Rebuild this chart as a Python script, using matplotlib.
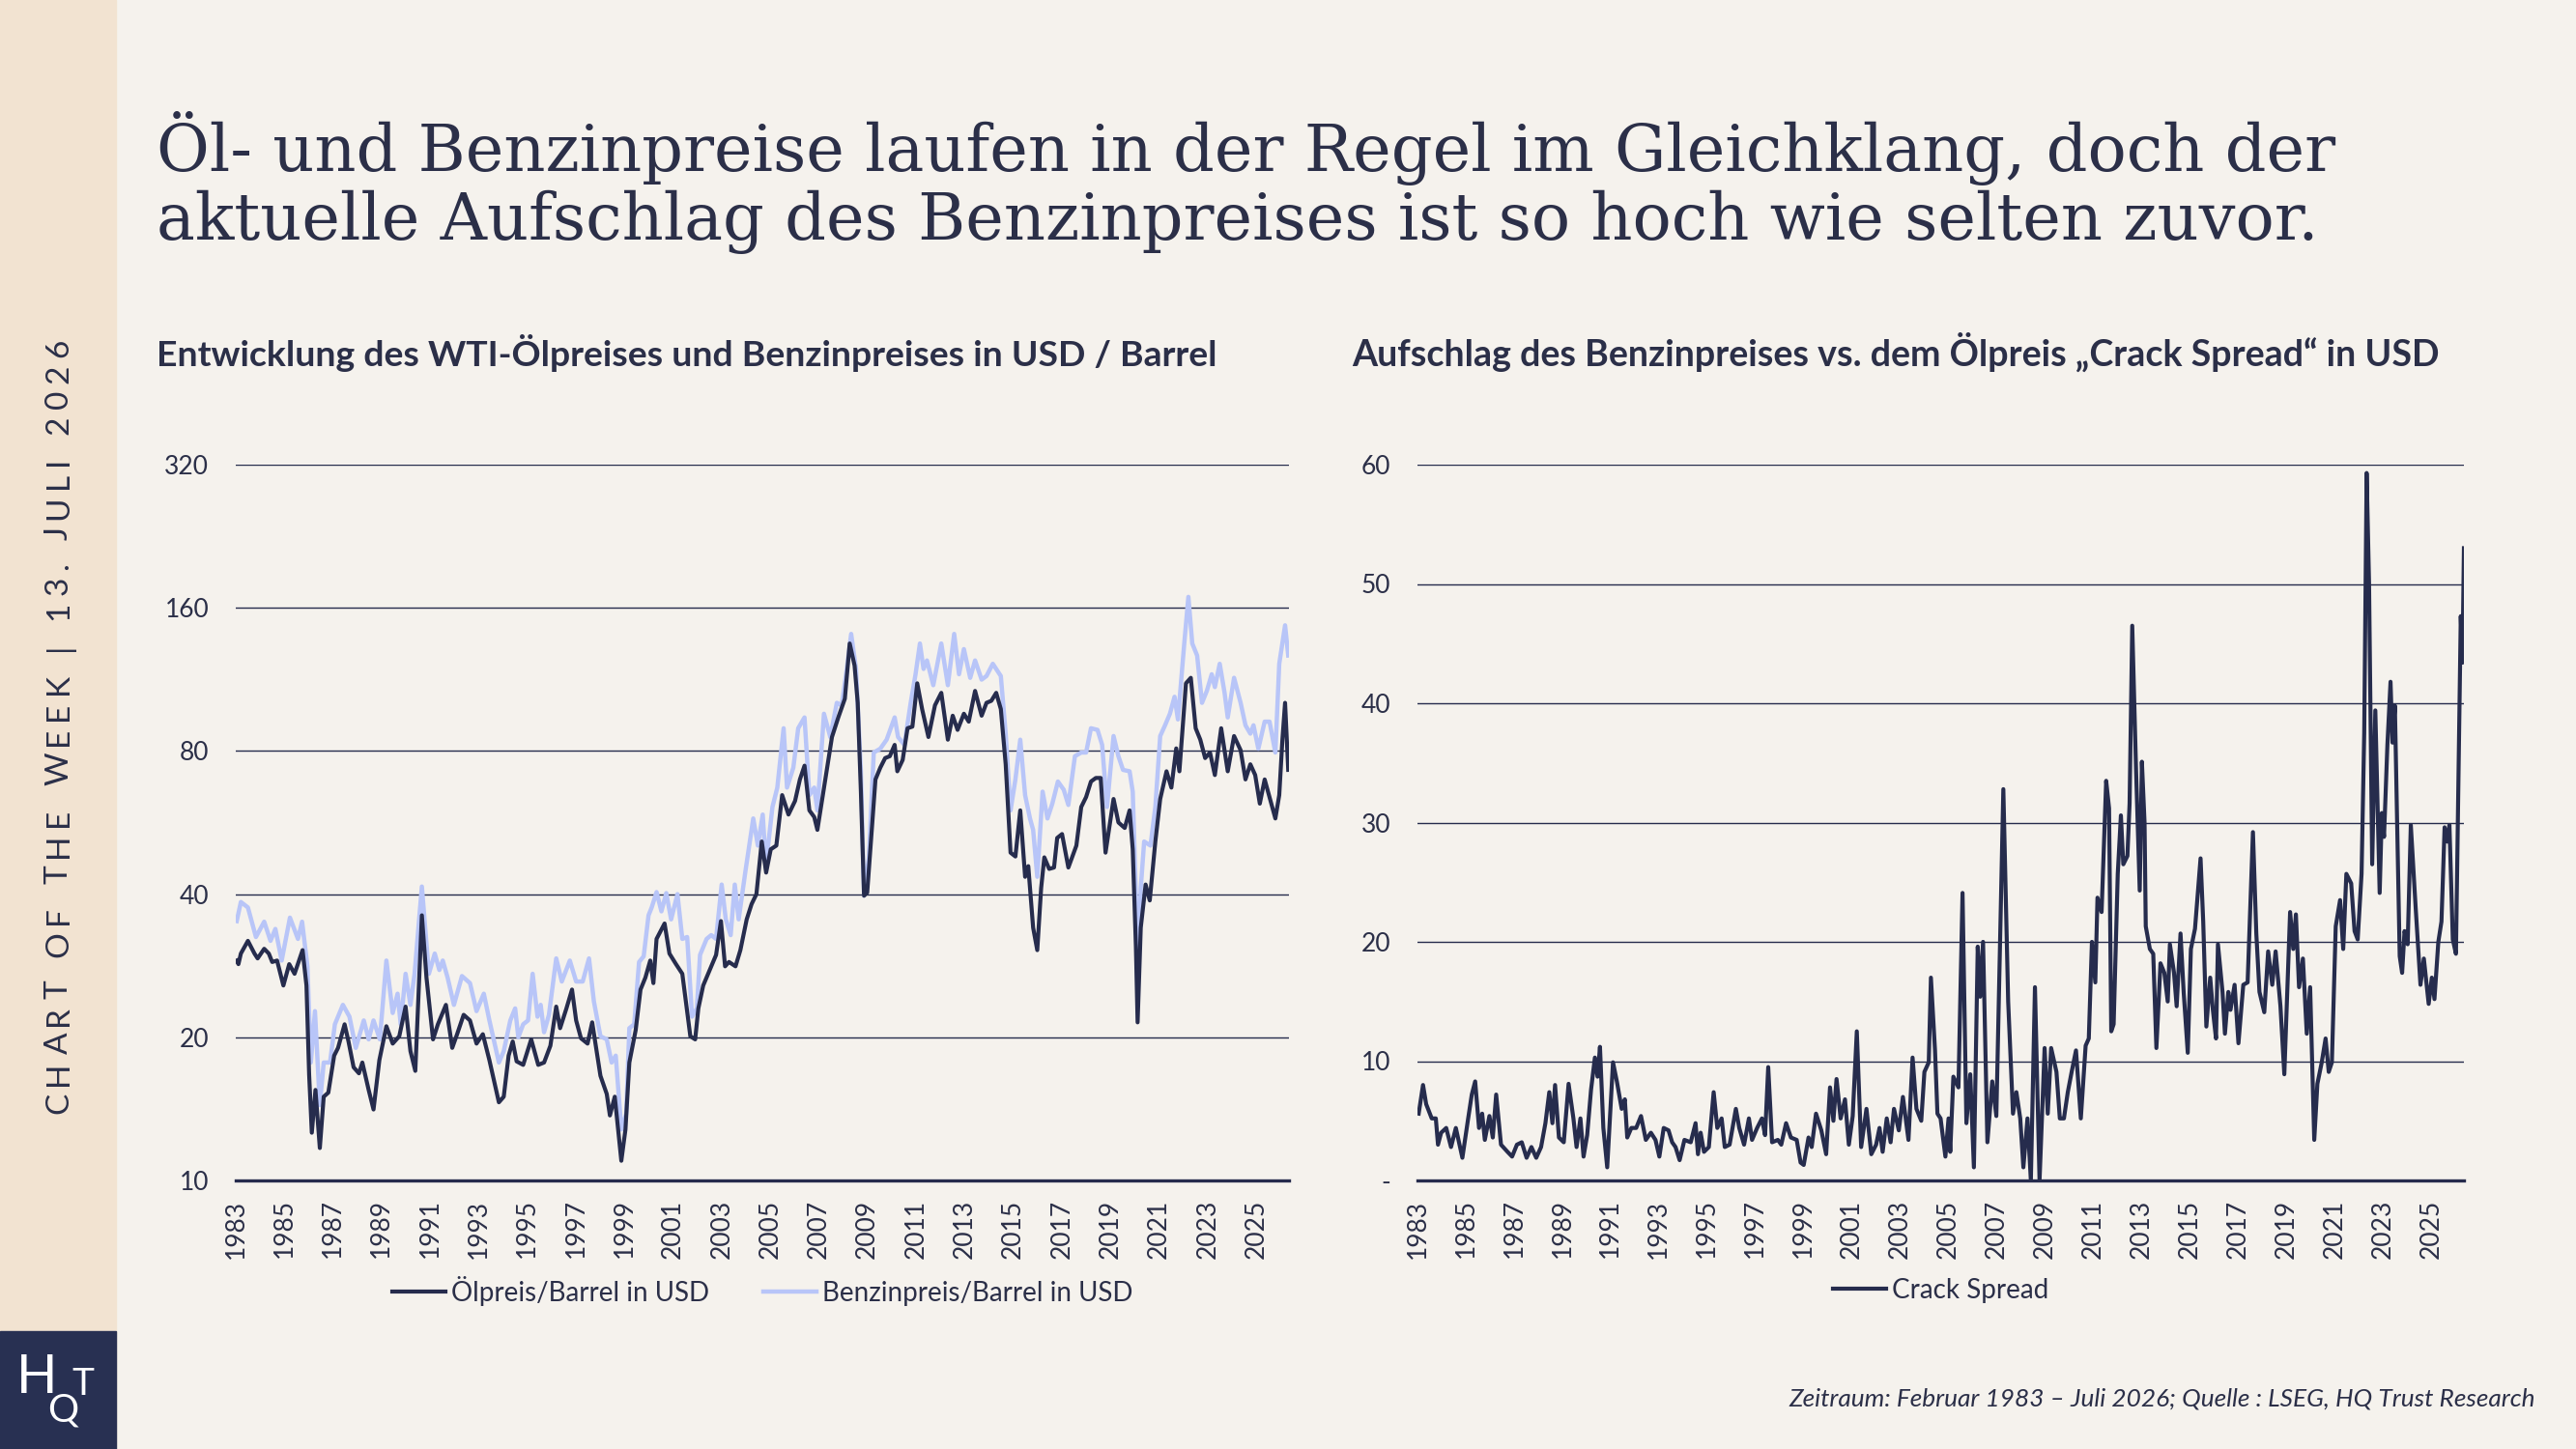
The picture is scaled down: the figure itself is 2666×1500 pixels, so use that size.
import matplotlib
matplotlib.use("Agg")
import matplotlib.pyplot as plt
from matplotlib.patches import Rectangle
from matplotlib.ticker import FixedLocator, NullLocator

# ---- data (decimal years, USD) ----
oil_years = [1983.04, 1983.11, 1983.21, 1983.50, 1983.77, 1983.90, 1984.17, 1984.36, 1984.50, 1984.70,
             1984.96, 1985.20, 1985.42, 1985.75, 1985.91, 1986.02, 1986.13, 1986.28, 1986.46, 1986.62,
             1986.81, 1987.05, 1987.21, 1987.48, 1987.64, 1987.85, 1988.07, 1988.21, 1988.47, 1988.67,
             1988.91, 1989.20, 1989.46, 1989.73, 1989.99, 1990.19, 1990.39, 1990.66, 1990.85, 1991.12,
             1991.32, 1991.65, 1991.91, 1992.11, 1992.38, 1992.64, 1992.91, 1993.17, 1993.44, 1993.83,
             1994.03, 1994.23, 1994.40, 1994.56, 1994.83, 1995.16, 1995.45, 1995.69, 1995.95, 1996.19,
             1996.35, 1996.61, 1996.84, 1997.01, 1997.21, 1997.48, 1997.67, 1998.01, 1998.27, 1998.40,
             1998.60, 1998.87, 1999.04, 1999.20, 1999.46, 1999.66, 1999.86, 2000.06, 2000.19, 2000.32,
             2000.65, 2000.85, 2001.12, 2001.38, 2001.71, 2001.91, 2002.04, 2002.24, 2002.51, 2002.77,
             2002.97, 2003.14, 2003.30, 2003.57, 2003.77, 2004.03, 2004.23, 2004.43, 2004.65, 2004.83,
             2005.02, 2005.25, 2005.49, 2005.75, 2006.02, 2006.22, 2006.41, 2006.61, 2006.81, 2006.94,
             2007.14, 2007.34, 2007.54, 2007.80, 2008.07, 2008.27, 2008.47, 2008.60, 2008.73, 2008.86,
             2008.99, 2009.13, 2009.33, 2009.53, 2009.73, 2009.92, 2010.12, 2010.23, 2010.45, 2010.65,
             2010.85, 2011.05, 2011.25, 2011.51, 2011.78, 2012.04, 2012.31, 2012.51, 2012.71, 2012.97,
             2013.17, 2013.43, 2013.70, 2013.90, 2014.10, 2014.30, 2014.49, 2014.69, 2014.89, 2015.09,
             2015.29, 2015.49, 2015.62, 2015.82, 2015.99, 2016.15, 2016.28, 2016.48, 2016.68, 2016.81,
             2017.01, 2017.27, 2017.60, 2017.80, 2018.00, 2018.20, 2018.40, 2018.60, 2018.80, 2019.13,
             2019.33, 2019.59, 2019.79, 2019.92, 2020.05, 2020.12, 2020.25, 2020.45, 2020.62, 2020.85,
             2021.05, 2021.31, 2021.51, 2021.71, 2021.84, 2022.11, 2022.31, 2022.51, 2022.70, 2022.90,
             2023.10, 2023.30, 2023.56, 2023.83, 2024.09, 2024.36, 2024.56, 2024.76, 2024.96, 2025.15,
             2025.35, 2025.62, 2025.79, 2025.95, 2026.08, 2026.19, 2026.32]
oil_usd = [29.0, 28.5, 30.0, 31.9, 30.0, 29.3, 30.7, 30.0, 28.8, 29.0,
           25.7, 28.5, 27.2, 30.5, 25.7, 16.7, 12.6, 15.5, 11.7, 15.0,
           15.3, 18.3, 19.0, 21.3, 19.6, 17.3, 16.8, 17.7, 15.5, 14.1,
           17.9, 21.1, 19.4, 20.1, 23.2, 18.7, 17.0, 36.1, 26.7, 19.8,
           21.3, 23.4, 19.0, 20.3, 22.3, 21.7, 19.4, 20.3, 17.9, 14.6,
           15.0, 18.3, 19.6, 17.8, 17.5, 19.8, 17.5, 17.7, 19.2, 23.2,
           20.9, 23.0, 25.2, 21.7, 19.9, 19.4, 21.5, 16.6, 15.2, 13.7,
           15.0, 11.0, 12.8, 17.7, 20.7, 25.2, 26.7, 29.0, 26.0, 32.2,
           34.7, 30.0, 28.5, 27.2, 20.1, 19.8, 23.0, 25.7, 27.7, 29.8,
           35.1, 28.2, 28.8, 28.2, 30.5, 35.4, 38.1, 40.0, 51.6, 44.4,
           49.7, 50.6, 64.6, 58.8, 62.8, 69.7, 74.5, 60.0, 58.1, 54.6,
           63.4, 73.8, 85.6, 94.1, 103.0, 134.6, 121.0, 101.0, 65.7, 39.7,
           40.3, 50.6, 69.7, 73.8, 77.3, 78.0, 82.4, 72.5, 76.6, 89.3,
           90.0, 111.0, 98.0, 85.6, 99.8, 106.0, 84.5, 94.9, 88.6, 95.8,
           92.2, 107.0, 94.9, 101.0, 102.0, 106.0, 98.0, 75.0, 48.9, 48.0,
           60.0, 43.5, 45.8, 34.0, 30.5, 41.2, 47.8, 45.2, 45.5, 52.5,
           53.5, 45.5, 50.6, 61.0, 64.0, 69.0, 70.2, 70.2, 48.9, 63.4,
           56.6, 55.1, 60.0, 49.7, 31.0, 21.5, 34.0, 41.9, 38.8, 51.6,
           63.4, 72.5, 67.0, 81.0, 72.5, 111.0, 114.0, 89.3, 84.5, 77.3,
           79.4, 71.2, 89.3, 72.5, 86.0, 80.3, 69.7, 75.0, 71.2, 62.0,
           69.7, 62.0, 57.7, 64.6, 84.5, 101.0, 73.0]

gas_years = [1983.04, 1983.21, 1983.50, 1983.83, 1984.17, 1984.43, 1984.63, 1984.89, 1985.23, 1985.56,
             1985.73, 1985.95, 1986.09, 1986.26, 1986.46, 1986.62, 1986.88, 1987.08, 1987.41, 1987.68,
             1987.94, 1988.27, 1988.47, 1988.67, 1988.93, 1989.20, 1989.46, 1989.66, 1989.79, 1989.99,
             1990.19, 1990.36, 1990.66, 1990.95, 1991.19, 1991.38, 1991.52, 1991.72, 1991.98, 1992.31,
             1992.64, 1992.91, 1993.21, 1993.44, 1993.83, 1994.03, 1994.30, 1994.50, 1994.63, 1994.83,
             1995.03, 1995.22, 1995.42, 1995.55, 1995.69, 1995.89, 1996.19, 1996.42, 1996.75, 1997.01,
             1997.28, 1997.54, 1997.74, 1998.01, 1998.27, 1998.47, 1998.64, 1998.87, 1999.07, 1999.20,
             1999.40, 1999.60, 1999.79, 1999.99, 2000.12, 2000.32, 2000.52, 2000.72, 2000.92, 2001.18,
             2001.38, 2001.58, 2001.78, 2001.98, 2002.11, 2002.38, 2002.57, 2002.77, 2003.00, 2003.17,
             2003.37, 2003.54, 2003.70, 2003.97, 2004.30, 2004.49, 2004.69, 2004.82, 2005.09, 2005.29,
             2005.55, 2005.69, 2005.95, 2006.15, 2006.41, 2006.61, 2006.81, 2006.94, 2007.21, 2007.47,
             2007.74, 2007.94, 2008.14, 2008.33, 2008.53, 2008.73, 2008.86, 2009.06, 2009.26, 2009.53,
             2009.79, 2010.12, 2010.26, 2010.52, 2010.78, 2010.98, 2011.16, 2011.31, 2011.45, 2011.71,
             2012.04, 2012.31, 2012.57, 2012.77, 2012.97, 2013.23, 2013.43, 2013.70, 2013.90, 2014.16,
             2014.49, 2014.69, 2014.89, 2015.09, 2015.29, 2015.49, 2015.69, 2015.82, 2015.99, 2016.21,
             2016.41, 2016.61, 2016.84, 2017.08, 2017.27, 2017.54, 2017.80, 2018.00, 2018.20, 2018.47,
             2018.66, 2018.86, 2019.13, 2019.33, 2019.52, 2019.79, 2019.92, 2020.05, 2020.12, 2020.25,
             2020.39, 2020.65, 2020.85, 2021.05, 2021.25, 2021.45, 2021.64, 2021.78, 2022.04, 2022.21,
             2022.37, 2022.57, 2022.77, 2022.97, 2023.17, 2023.30, 2023.50, 2023.70, 2023.83, 2024.09,
             2024.36, 2024.56, 2024.76, 2024.89, 2025.09, 2025.35, 2025.55, 2025.79, 2025.95, 2026.19,
             2026.32]
gas_usd = [35.1, 38.5, 37.5, 32.5, 35.0, 31.9, 33.8, 29.0, 35.7, 32.2,
           35.0, 28.2, 17.7, 22.7, 14.4, 17.7, 17.7, 21.3, 23.4, 22.1,
           19.0, 21.7, 19.8, 21.7, 19.8, 29.0, 22.5, 24.7, 21.3, 27.2,
           23.4, 27.2, 41.5, 27.2, 30.0, 27.7, 29.0, 26.7, 23.4, 26.9,
           26.0, 22.7, 24.7, 21.7, 17.7, 18.7, 21.7, 23.0, 20.0, 21.3,
           21.7, 27.2, 22.1, 23.4, 20.5, 22.3, 29.3, 26.2, 29.0, 26.2,
           26.2, 29.3, 23.8, 20.1, 19.8, 17.7, 18.3, 12.8, 13.8, 20.9,
           21.3, 28.8, 29.6, 36.1, 37.5, 40.4, 36.8, 40.2, 35.4, 40.0,
           32.2, 32.5, 22.1, 23.0, 29.8, 32.2, 32.8, 32.2, 41.9, 35.4,
           32.8, 41.9, 35.4, 44.4, 57.7, 50.6, 58.8, 46.0, 61.0, 67.0,
           89.3, 67.0, 73.8, 89.3, 94.1, 64.6, 67.0, 60.0, 95.8, 85.6,
           101.0, 99.8, 118.0, 141.0, 119.0, 72.5, 39.7, 47.8, 79.4, 80.9,
           84.5, 94.1, 85.6, 82.4, 101.0, 116.0, 134.6, 119.0, 124.0, 110.0,
           134.6, 110.0, 141.0, 116.0, 131.0, 114.0, 124.0, 113.0, 115.0, 122.0,
           115.0, 87.0, 60.0, 69.7, 84.5, 64.6, 57.7, 54.6, 43.5, 65.7,
           57.7, 62.0, 69.0, 66.3, 61.6, 78.0, 79.4, 79.4, 89.3, 88.6,
           82.4, 61.0, 86.0, 78.0, 73.0, 72.5, 65.7, 39.7, 24.7, 41.2,
           51.6, 50.6, 61.0, 86.0, 90.6, 95.8, 104.0, 93.2, 134.6, 168.7,
           134.6, 127.0, 101.0, 107.0, 116.0, 109.0, 122.0, 106.0, 94.1, 114.0,
           101.0, 90.6, 87.0, 90.6, 80.9, 92.2, 92.2, 79.4, 122.0, 147.0,
           127.0]

crack_years = [1983.05, 1983.23, 1983.36, 1983.59, 1983.76, 1983.85, 1983.98, 1984.19, 1984.39, 1984.59,
               1984.86, 1985.10, 1985.25, 1985.39, 1985.55, 1985.68, 1985.79, 1985.98, 1986.12, 1986.26,
               1986.46, 1986.73, 1986.92, 1987.12, 1987.32, 1987.52, 1987.72, 1987.92, 1988.12, 1988.30,
               1988.46, 1988.59, 1988.70, 1988.86, 1989.06, 1989.26, 1989.46, 1989.59, 1989.75, 1989.88,
               1990.03, 1990.19, 1990.35, 1990.46, 1990.56, 1990.70, 1990.86, 1991.10, 1991.26, 1991.46,
               1991.59, 1991.69, 1991.86, 1992.06, 1992.26, 1992.46, 1992.67, 1992.86, 1993.02, 1993.20,
               1993.40, 1993.55, 1993.69, 1993.86, 1994.06, 1994.32, 1994.52, 1994.62, 1994.73, 1994.87,
               1995.07, 1995.27, 1995.42, 1995.60, 1995.73, 1995.93, 1996.19, 1996.33, 1996.53, 1996.73,
               1996.86, 1997.07, 1997.27, 1997.40, 1997.53, 1997.69, 1997.93, 1998.07, 1998.27, 1998.47,
               1998.71, 1998.87, 1999.00, 1999.20, 1999.33, 1999.51, 1999.73, 1999.93, 2000.09, 2000.23,
               2000.36, 2000.53, 2000.71, 2000.87, 2001.03, 2001.20, 2001.38, 2001.60, 2001.80, 2002.00,
               2002.14, 2002.27, 2002.44, 2002.60, 2002.74, 2002.94, 2003.11, 2003.34, 2003.51, 2003.67,
               2003.87, 2004.00, 2004.18, 2004.27, 2004.44, 2004.54, 2004.67, 2004.87, 2005.00, 2005.07,
               2005.20, 2005.41, 2005.58, 2005.74, 2005.90, 2006.05, 2006.21, 2006.31, 2006.43, 2006.61,
               2006.81, 2006.98, 2007.27, 2007.47, 2007.67, 2007.81, 2007.97, 2008.10, 2008.27, 2008.41,
               2008.58, 2008.77, 2008.98, 2009.11, 2009.25, 2009.47, 2009.61, 2009.78, 2009.94, 2010.10,
               2010.28, 2010.48, 2010.68, 2010.81, 2010.94, 2011.08, 2011.17, 2011.34, 2011.53, 2011.65,
               2011.74, 2011.84, 2012.01, 2012.14, 2012.24, 2012.41, 2012.50, 2012.61, 2012.77, 2012.92,
               2013.01, 2013.12, 2013.17, 2013.34, 2013.48, 2013.61, 2013.78, 2013.94, 2014.08, 2014.17,
               2014.34, 2014.45, 2014.61, 2014.74, 2014.91, 2015.04, 2015.21, 2015.44, 2015.55, 2015.68,
               2015.84, 2015.95, 2016.08, 2016.16, 2016.35, 2016.45, 2016.59, 2016.68, 2016.85, 2017.01,
               2017.21, 2017.39, 2017.61, 2017.75, 2017.88, 2018.08, 2018.24, 2018.41, 2018.55, 2018.75,
               2018.91, 2019.15, 2019.28, 2019.39, 2019.52, 2019.68, 2019.84, 2019.98, 2020.15, 2020.28,
               2020.46, 2020.62, 2020.75, 2020.88, 2021.04, 2021.22, 2021.35, 2021.48, 2021.68, 2021.82,
               2021.95, 2022.11, 2022.22, 2022.32, 2022.42, 2022.55, 2022.68, 2022.86, 2022.95, 2023.04,
               2023.18, 2023.31, 2023.39, 2023.49, 2023.69, 2023.79, 2023.89, 2024.02, 2024.15, 2024.35,
               2024.55, 2024.69, 2024.89, 2025.02, 2025.13, 2025.29, 2025.42, 2025.55, 2025.66, 2025.75,
               2025.89, 2026.02, 2026.22, 2026.29, 2026.35]
crack_usd = [5.6, 8.0, 6.4, 5.2, 5.2, 3.0, 4.0, 4.4, 2.8, 4.4,
             1.9, 5.2, 7.2, 8.3, 4.4, 5.6, 3.4, 5.4, 3.6, 7.2,
             3.0, 2.4, 2.0, 3.0, 3.2, 1.9, 2.8, 1.9, 2.8, 4.8,
             7.4, 4.8, 8.0, 3.6, 3.2, 8.1, 5.2, 2.8, 5.2, 2.0,
             3.8, 7.6, 10.3, 8.7, 11.2, 4.4, 1.1, 9.9, 8.3, 6.0,
             6.8, 3.6, 4.4, 4.4, 5.4, 3.4, 4.0, 3.4, 2.0, 4.4,
             4.2, 3.2, 2.8, 1.7, 3.4, 3.2, 4.8, 2.2, 4.0, 2.4,
             2.8, 7.4, 4.4, 5.2, 2.8, 3.0, 6.0, 4.4, 3.0, 5.2,
             3.4, 4.4, 5.2, 3.8, 9.5, 3.2, 3.4, 3.0, 4.8, 3.6,
             3.4, 1.5, 1.3, 3.6, 2.8, 5.6, 4.2, 2.2, 7.8, 5.0,
             8.5, 5.2, 6.8, 3.0, 5.4, 12.5, 2.8, 6.0, 2.2, 3.0,
             4.4, 2.4, 5.2, 3.2, 6.0, 4.2, 7.0, 3.4, 10.3, 6.0,
             5.0, 9.1, 9.9, 17.0, 10.9, 5.6, 5.2, 2.0, 5.2, 2.4,
             8.7, 7.8, 24.1, 4.8, 8.9, 1.1, 19.6, 15.4, 20.0, 3.2,
             8.3, 5.4, 32.8, 15.0, 5.6, 7.4, 5.2, 1.1, 5.2, 0.0,
             16.2, 0.0, 11.1, 5.6, 11.1, 9.1, 5.2, 5.2, 7.4, 9.1,
             10.9, 5.2, 11.3, 11.9, 20.0, 16.6, 23.7, 22.5, 33.5, 31.2,
             12.5, 13.1, 25.7, 30.6, 26.5, 27.2, 31.6, 46.5, 34.3, 24.3,
             35.1, 30.0, 21.3, 19.4, 19.0, 11.1, 18.2, 17.4, 15.0, 19.8,
             17.4, 14.6, 20.7, 15.8, 10.7, 19.4, 21.1, 27.0, 21.7, 12.9,
             17.0, 14.3, 11.9, 19.8, 15.8, 12.3, 15.8, 14.3, 16.4, 11.5,
             16.4, 16.6, 29.2, 20.7, 15.8, 14.1, 19.2, 16.4, 19.2, 14.6,
             8.9, 22.5, 19.4, 22.3, 16.2, 18.6, 12.3, 16.2, 3.4, 8.1,
             9.9, 11.9, 9.1, 9.9, 21.3, 23.5, 19.4, 25.7, 24.9, 20.9,
             20.2, 25.7, 37.5, 59.3, 50.1, 26.5, 39.4, 24.1, 30.8, 28.8,
             36.5, 41.8, 36.7, 39.8, 18.8, 17.4, 20.9, 19.8, 29.8, 22.9,
             16.4, 18.6, 14.8, 17.0, 15.2, 20.0, 21.7, 29.6, 28.4, 29.8,
             20.2, 19.0, 47.3, 43.4, 53.0]

year_ticks = list(range(1983, 2026, 2))
price_ticks = [10, 20, 40, 80, 160, 320]
spread_ticks = [0, 10, 20, 30, 40, 50, 60]
spread_labels = ["-", "10", "20", "30", "40", "50", "60"]

# ---- colours ----
BG = "#f5f2ed"
SIDE = "#f2e3d1"
NAVY = "#262c4d"
LIGHT = "#b8c5f8"
TXT = "#2b2f48"

W, H = 2666, 1500
plt.rcParams["font.family"] = ["Lato", "DejaVu Sans"]

fig = plt.figure(figsize=(W / 100, H / 100), dpi=100)
fig.patch.set_facecolor(BG)


def fx(px):
    return px / W


def fy(py):
    return 1 - py / H


def fit_width(t, width_px):
    # scale font size so the rendered text is width_px wide
    r = fig.canvas.get_renderer()
    w = t.get_window_extent(r).width
    t.set_fontsize(t.get_fontsize() * width_px / w)
    return t.get_fontsize()


# side band and logo block
fig.add_artist(Rectangle((0, 0), fx(120), 1, transform=fig.transFigure, color=SIDE, zorder=0))
fig.add_artist(Rectangle((0, 0), fx(120), 122 / H, transform=fig.transFigure, color="#283052", zorder=1))
fig.text(fx(38), fy(1427), "H", color="white", fontsize=40, ha="center", va="center")
fig.text(fx(86), fy(1433), "T", color="white", fontsize=28, ha="center", va="center")
fig.text(fx(65), fy(1460), "Q", color="white", fontsize=29, ha="center", va="center")

# letter-spaced vertical caption in the side band
side_txt = "CHART OF THE WEEK | 13. JULI 2026"
renderer = fig.canvas.get_renderer()
chars = []
for ch in side_txt:
    t = fig.text(fx(61), fy(1153), ch, rotation=90, rotation_mode="anchor", ha="left", va="center",
                 fontsize=24, color=TXT)
    if ch == " ":
        w = 24 * 100 / 72 * 0.28
    else:
        w = t.get_window_extent(renderer).height
    chars.append((t, w))
gap = (1153 - 351 - sum(w for _, w in chars)) / (len(chars) - 1)
ypos = 1153
for t, w in chars:
    t.set_position((fx(61), fy(ypos)))
    ypos -= w + gap

# headline
t1 = fig.text(fx(162), fy(177), "Öl- und Benzinpreise laufen in der Regel im Gleichklang, doch der",
              family="DejaVu Serif", fontsize=40, color=TXT, va="baseline")
fs = fit_width(t1, 2248)
fig.text(fx(162), fy(248), "aktuelle Aufschlag des Benzinpreises ist so hoch wie selten zuvor.",
         family="DejaVu Serif", fontsize=fs, color=TXT, va="baseline")

# panel titles
s1 = fig.text(fx(162), fy(379), "Entwicklung des WTI-Ölpreises und Benzinpreises in USD / Barrel",
              fontsize=22, fontweight="bold", color=TXT, va="baseline")
fit_width(s1, 1098)
s2 = fig.text(fx(1399), fy(379), "Aufschlag des Benzinpreises vs. dem Ölpreis „Crack Spread“ in USD",
              fontsize=22, fontweight="bold", color=TXT, va="baseline")
fit_width(s2, 1126)

# footer
ft = fig.text(fx(2624), fy(1448), "Zeitraum: Februar 1983 – Juli 2026; Quelle : LSEG, HQ Trust Research",
              fontsize=15, style="italic", color=TXT, ha="right", va="center")
fit_width(ft, 773)

ax1 = fig.add_axes([fx(244), fy(1222), 1090 / W, 741 / H])
ax2 = fig.add_axes([fx(1467), fy(1222), 1083 / W, 741 / H])

ax1.plot(gas_years, gas_usd, color=LIGHT, lw=3.2, label="Benzinpreis/Barrel in USD", zorder=2)
ax1.plot(oil_years, oil_usd, color=NAVY, lw=3.0, label="Ölpreis/Barrel in USD", zorder=3)
ax1.set_yscale("log")
ax1.set_ylim(10, 320)
ax1.yaxis.set_major_locator(FixedLocator(price_ticks))
ax1.yaxis.set_minor_locator(NullLocator())
ax1.set_yticklabels([str(v) for v in price_ticks])

ax2.plot(crack_years, crack_usd, color=NAVY, lw=3.0, label="Crack Spread", zorder=3)
ax2.set_ylim(0, 60)
ax2.set_yticks(spread_ticks)
ax2.set_yticklabels(spread_labels)

for ax in (ax1, ax2):
    ax.set_facecolor(BG)
    ax.set_xlim(1983.0, 2026.35)
    ax.set_xticks(year_ticks)
    ax.set_xticklabels([str(y) for y in year_ticks], rotation=90)
    ax.xaxis.set_minor_locator(NullLocator())
    for side in ("top", "right", "left"):
        ax.spines[side].set_visible(False)
    ax.spines["bottom"].set_color(NAVY)
    ax.spines["bottom"].set_linewidth(2.4)
    ax.yaxis.grid(True, color=NAVY, lw=1.0)
    ax.set_axisbelow(True)
    ax.tick_params(axis="both", length=0, labelsize=19, labelcolor=TXT)
    ax.tick_params(axis="y", pad=20)
    ax.tick_params(axis="x", pad=14)

h, l = ax1.get_legend_handles_labels()
leg_font = {"size": 20}
ax1.legend(h[::-1], l[::-1], loc="center", bbox_to_anchor=(0.5, -0.154), ncol=2, frameon=False,
           handlelength=2.0, handletextpad=0.2, columnspacing=2.0, prop=leg_font, labelcolor=TXT)
ax2.legend(loc="center", bbox_to_anchor=(0.5, -0.154), frameon=False,
           handlelength=2.0, handletextpad=0.2, prop=leg_font, labelcolor=TXT)

fig.savefig("out.png", dpi=100, facecolor=BG)
